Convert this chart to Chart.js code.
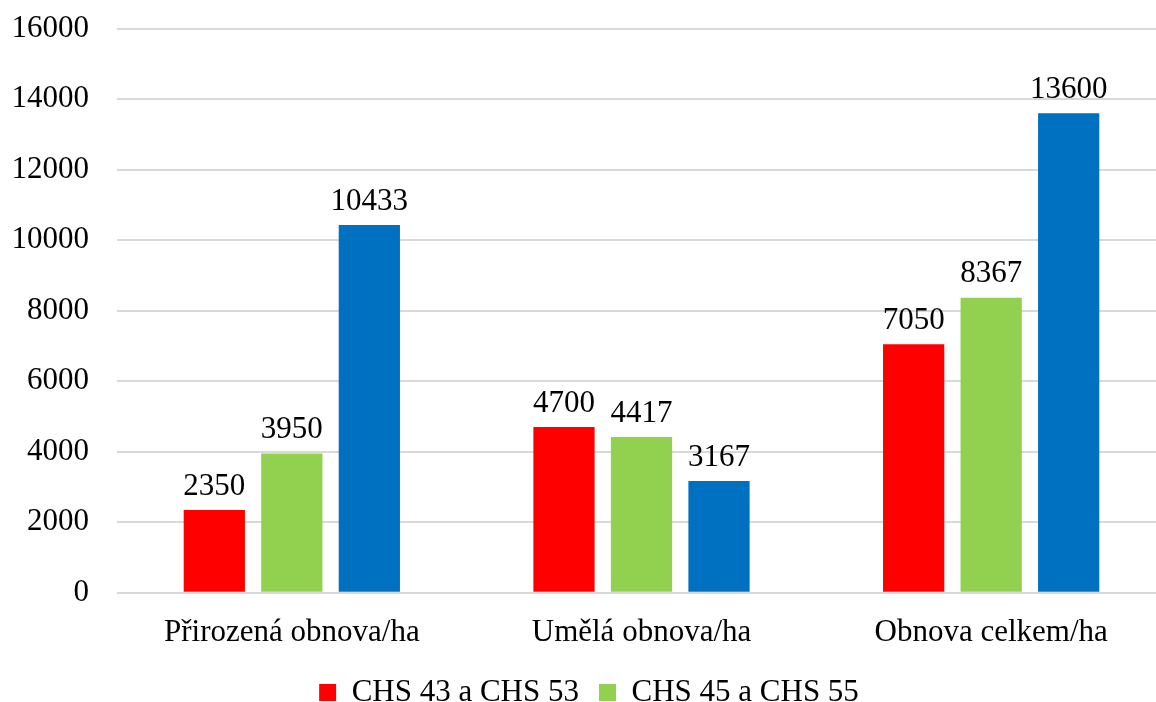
<!DOCTYPE html>
<html>
<head>
<meta charset="utf-8">
<script src="https://cdn.jsdelivr.net/npm/chart.js@4"></script>
<style>
  html, body { margin: 0; padding: 0; background: #fff; overflow: hidden; }
  #wrap { width: 1166px; height: 736px; margin-top: -18px; }
</style>
</head>
<body>
<div id="wrap"><canvas id="chart"></canvas></div>
<script>
const categories = ['Přirozená obnova/ha', 'Umělá obnova/ha', 'Obnova celkem/ha'];
const seriesNames = ['CHS 43 a CHS 53', 'CHS 45 a CHS 55', 'CHS celkem'];
const chs4353 = [2350, 4700, 7050];
const chs4555 = [3950, 4417, 8367];
const chsTotal = [10433, 3167, 13600];
const yTicks = [0, 2000, 4000, 6000, 8000, 10000, 12000, 14000, 16000];

const colors = ['#ff0000', '#92d050', '#0070c0'];
const FONT = "'Liberation Serif', 'Times New Roman', serif";
const FS = 31;

// draws value above each bar
const valueLabels = {
  id: 'valueLabels',
  afterDatasetsDraw(chart) {
    const ctx = chart.ctx;
    ctx.save();
    ctx.font = FS + 'px ' + FONT;
    ctx.fillStyle = '#000';
    ctx.textAlign = 'center';
    ctx.textBaseline = 'bottom';
    chart.data.datasets.forEach((ds, i) => {
      chart.getDatasetMeta(i).data.forEach((bar, j) => {
        ctx.fillText(String(ds.data[j]), bar.x, bar.y - 8);
      });
    });
    ctx.restore();
  }
};

new Chart(document.getElementById('chart'), {
  type: 'bar',
  data: {
    labels: categories,
    datasets: [
      { label: seriesNames[0], data: chs4353, backgroundColor: colors[0] },
      { label: seriesNames[1], data: chs4555, backgroundColor: colors[1] },
      { label: seriesNames[2], data: chsTotal, backgroundColor: colors[2] }
    ]
  },
  options: {
    responsive: true,
    maintainAspectRatio: false,
    animation: false,
    layout: { padding: { top: 0, left: 12, right: 0, bottom: 0 } },
    datasets: {
      bar: { categoryPercentage: 0.665, barPercentage: 0.79 }
    },
    scales: {
      x: {
        afterFit(axis) { axis.height = axis.height - 7; },
        grid: { display: false },
        border: { display: false },
        ticks: { color: '#000', font: { family: FONT, size: FS }, padding: 13 }
      },
      y: {
        min: 0,
        max: 16000,
        afterBuildTicks(axis) { axis.ticks = yTicks.map(v => ({ value: v })); },
        afterFit(axis) { axis.width = 105; },
        grid: { color: '#d9d9d9', lineWidth: 2, drawTicks: false },
        border: { display: false },
        ticks: {
          color: '#000',
          font: { family: FONT, size: FS },
          padding: 28,
          callback: (v) => String(v)
        }
      }
    },
    plugins: {
      legend: {
        position: 'bottom',
        labels: {
          filter: (item) => item.datasetIndex < 2,
          color: '#000',
          font: { family: FONT, size: FS },
          boxWidth: 17,
          boxHeight: 17,
          padding: 20
        }
      },
      tooltip: { enabled: false }
    }
  },
  plugins: [valueLabels]
});
</script>
</body>
</html>
